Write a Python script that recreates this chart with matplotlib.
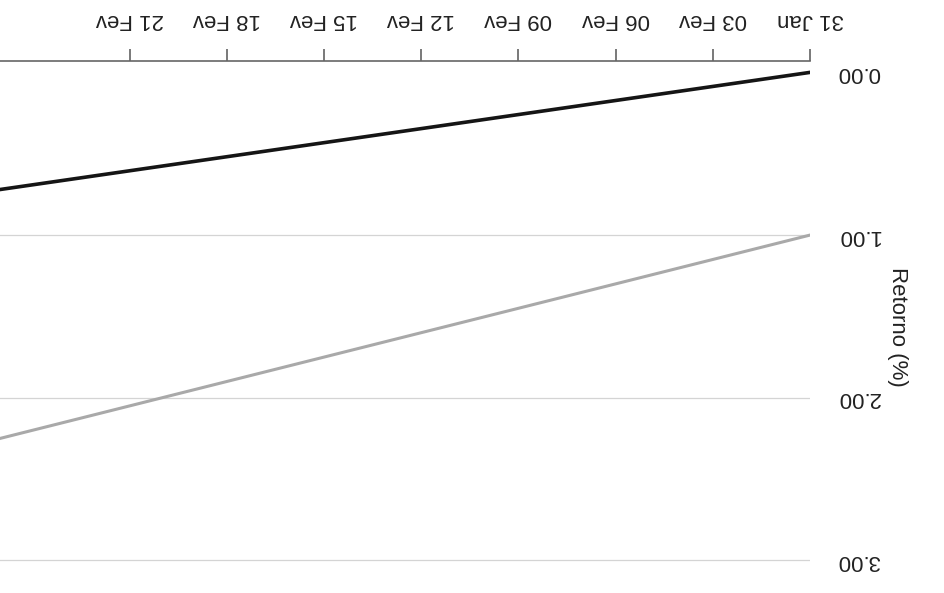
import matplotlib
matplotlib.use("Agg")
import matplotlib.pyplot as plt
import numpy as np

plt.rcParams['font.family'] = ['Liberation Sans', 'DejaVu Sans']

# Data (chart is a scan rotated by 180 degrees)
dates = np.array(['2022-01-31', '2022-02-25'], dtype='datetime64[D]')
serie_preta = [0.00, 0.72]
serie_cinza = [1.00, 2.25]
tick_dates = np.array(['2022-01-31', '2022-02-03', '2022-02-06', '2022-02-09', '2022-02-12',
                       '2022-02-15', '2022-02-18', '2022-02-21'], dtype='datetime64[D]')
tick_labels = ['31 Jan', '03 Fev', '06 Fev', '09 Fev', '12 Fev', '15 Fev', '18 Fev', '21 Fev']
y_ticks = [0.0, 1.0, 2.0, 3.0]
y_labels = ['0.00', '1.00', '2.00', '3.00']

fig = plt.figure(figsize=(9.44, 5.93), dpi=100)
ax = fig.add_axes([0, 0, 810 / 944, 532 / 593])

for y in y_ticks[1:]:
    ax.axhline(y, color='#d4d4d4', lw=0.9, zorder=1)

ax.plot(dates, serie_cinza, color='#a9a9a9', lw=2.2, zorder=3)
ax.plot(dates, serie_preta, color='#151515', lw=2.6, zorder=3)

ax.set_xlim(np.datetime64('2022-02-25'), np.datetime64('2022-01-31'))
ax.set_ylim(3.2, -0.07)

ax.xaxis.tick_top()
ax.set_xticks(tick_dates)
ax.set_xticklabels(tick_labels, rotation=180, fontsize=16)
ax.tick_params(axis='x', length=9, width=1.1, color='#555555', pad=13, labelcolor='#222222')

ax.yaxis.tick_right()
ax.set_yticks(y_ticks)
ax.set_yticklabels(y_labels, rotation=180, fontsize=16, va='center')
ax.tick_params(axis='y', length=0, pad=19, labelcolor='#222222')
ax.yaxis.set_label_position('right')
ax.set_ylabel('Retorno (%)', rotation=270, fontsize=16, color='#222222', labelpad=20)

for s in ['left', 'right', 'bottom']:
    ax.spines[s].set_visible(False)
ax.spines['top'].set_color('#666666')
ax.spines['top'].set_linewidth(1.2)

fig.savefig('out.png', dpi=100)
